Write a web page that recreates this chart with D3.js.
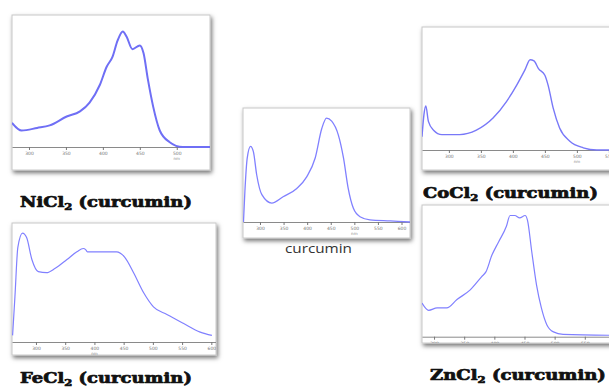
<!doctype html>
<html>
  <head>
    <script src="https://cdn.jsdelivr.net/npm/d3@7"></script>
    <style>
      body { margin: 0; background: #fff; }
    </style>
  </head>
  <body>
    <script>
    // spectra (wavelength in nm, absorbance in arbitrary units)
    var niNm  = [277, 290, 311, 328, 351, 369, 382, 396, 405, 413, 420, 427, 432, 440, 450, 455, 461, 468, 477, 490, 508, 545];
    var niAbs = [0.19, 0.13, 0.15, 0.17, 0.24, 0.28, 0.35, 0.49, 0.63, 0.71, 0.84, 0.91, 0.87, 0.77, 0.80, 0.74, 0.53, 0.32, 0.13, 0.04, 0.0, 0.0];

    var feNm  = [260, 264, 269, 277, 284, 293, 304, 318, 333, 353, 370, 381, 385, 388, 410, 438, 452, 467, 484, 501, 524, 552, 581, 601];
    var feAbs = [0.06, 0.41, 0.86, 0.99, 0.95, 0.75, 0.64, 0.63, 0.67, 0.75, 0.82, 0.85, 0.84, 0.82, 0.82, 0.82, 0.77, 0.63, 0.45, 0.32, 0.25, 0.17, 0.09, 0.06];

    var curNm  = [265, 268, 273, 280, 286, 293, 304, 325, 349, 378, 399, 417, 431, 441, 452, 466, 477, 487, 498, 512, 533, 576, 618];
    var curAbs = [0.0, 0.29, 0.61, 0.72, 0.67, 0.45, 0.26, 0.18, 0.24, 0.32, 0.43, 0.61, 0.89, 0.99, 0.96, 0.83, 0.61, 0.32, 0.13, 0.05, 0.02, 0.01, 0.0];

    var coNm  = [258, 261, 264, 268, 276, 289, 317, 343, 369, 390, 406, 419, 427, 433, 440, 450, 455, 463, 473, 489, 510, 531, 583];
    var coAbs = [0.12, 0.32, 0.40, 0.26, 0.18, 0.14, 0.14, 0.18, 0.29, 0.44, 0.59, 0.73, 0.82, 0.81, 0.74, 0.68, 0.59, 0.38, 0.20, 0.08, 0.02, 0.0, 0.0];

    var znNm  = [280, 291, 305, 321, 338, 360, 379, 386, 396, 407, 420, 426, 434, 442, 451, 455, 462, 470, 478, 487, 498, 514, 625];
    var znAbs = [0.28, 0.22, 0.24, 0.24, 0.31, 0.39, 0.50, 0.54, 0.68, 0.79, 0.92, 1.01, 1.01, 0.99, 1.01, 0.97, 0.71, 0.43, 0.24, 0.10, 0.04, 0.02, 0.01];

    // tick labels of each wavelength axis
    var niTicks  = [300, 350, 400, 450, 500, 550];
    var feTicks  = [300, 350, 400, 450, 500, 550, 600];
    var curTicks = [300, 350, 400, 450, 500, 550, 600];
    var coTicks  = [300, 350, 400, 450, 500, 550];
    var znTicks  = [300, 350, 400, 450, 500, 550];

    var width = 609;
    var height = 389;

    var svg = d3.select("body")
              .append("svg")
              .attr("width", width)
              .attr("height", height)
              .style("display", "block");

    var defs = svg.append("defs");

    defs.append("filter")
        .attr("id", "shadow")
        .attr("x", "-10%").attr("y", "-10%")
        .attr("width", "125%").attr("height", "125%")
      .append("feDropShadow")
        .attr("dx", 1.5)
        .attr("dy", 2.5)
        .attr("stdDeviation", 2)
        .attr("flood-color", "#000")
        .attr("flood-opacity", 0.55);

//Draw one spectrum panel
    function drawPanel(p) {
      var xScale = d3.scaleLinear()
                    .domain(p.domain)
                    .range([p.x0, p.x1]);

      var yScale = d3.scaleLinear()
                    .domain([0, 1])
                    .range([p.axisY, p.axisY - p.unit]);

      svg.append("rect")
        .attr("x", p.x0)
        .attr("y", p.y0)
        .attr("width", p.x1 - p.x0)
        .attr("height", p.y1 - p.y0)
        .attr("fill", "#fff")
        .attr("stroke", "#c8c8c8")
        .attr("stroke-width", 1)
        .attr("filter", "url(#shadow)");

      defs.append("clipPath")
          .attr("id", "clip-" + p.id)
        .append("rect")
          .attr("x", p.x0)
          .attr("y", p.y0)
          .attr("width", p.x1 - p.x0)
          .attr("height", p.y1 - p.y0);

      var g = svg.append("g")
                .attr("clip-path", "url(#clip-" + p.id + ")");

      var xAxis = d3.axisBottom(xScale)
                  .tickValues(p.ticks)
                  .tickSize(3)
                  .tickSizeOuter(0)
                  .tickPadding(2)
                  .tickFormat(d3.format("d"));

      var ax = g.append("g")
        .attr("transform", "translate(0," + p.axisY + ")")
        .call(xAxis);

      ax.select(".domain").attr("stroke", "#8a8a8a");
      ax.selectAll(".tick line").attr("stroke", "#777");
      ax.selectAll(".tick text")
        .attr("fill", "#777")
        .attr("font-family", "DejaVu Sans")
        .attr("font-size", "4.5px");

      g.append("text")
        .attr("x", xScale(p.nmAt))
        .attr("y", p.axisY + 12.5)
        .attr("text-anchor", "middle")
        .attr("font-family", "DejaVu Sans")
        .attr("font-size", "4px")
        .attr("fill", "#888")
        .text("nm");

      var line = d3.line()
                  .x(function(d) { return xScale(d[0]); })
                  .y(function(d) { return yScale(d[1]); })
                  .curve(d3.curveMonotoneX);

      g.append("path")
        .datum(d3.zip(p.nm, p.abs))
        .attr("fill", "none")
        .attr("stroke", p.color)
        .attr("stroke-width", p.lw)
        .attr("stroke-linejoin", "round")
        .attr("d", line);
    }

    drawPanel({id: "ni", nm: niNm, abs: niAbs, ticks: niTicks, nmAt: 500,
               domain: [277, 545], x0: 12, x1: 210, y0: 15, y1: 170, axisY: 147, unit: 127,
               color: "#6f6ff5", lw: 2});
    drawPanel({id: "fe", nm: feNm, abs: feAbs, ticks: feTicks, nmAt: 400,
               domain: [259, 608], x0: 12, x1: 216, y0: 223, y1: 355, axisY: 342, unit: 110,
               color: "#8080ff", lw: 1.2});
    drawPanel({id: "cur", nm: curNm, abs: curAbs, ticks: curTicks, nmAt: 500,
               domain: [264, 618], x0: 243, x1: 410, y0: 108, y1: 238, axisY: 222, unit: 105,
               color: "#8080ff", lw: 1.3});
    drawPanel({id: "co", nm: coNm, abs: coAbs, ticks: coTicks, nmAt: 500,
               domain: [258, 583], x0: 422, x1: 630, y0: 27, y1: 170, axisY: 150, unit: 110,
               color: "#7878f8", lw: 1.4});
    drawPanel({id: "zn", nm: znNm, abs: znAbs, ticks: znTicks, nmAt: 400,
               domain: [280, 625], x0: 422, x1: 630, y0: 205, y1: 343, axisY: 336.7, unit: 120,
               color: "#8080ff", lw: 1.2});

//Compound labels, stretched to the width seen in the picture
    function chemLabel(metal, x, y, w) {
      var t = svg.append("text")
        .attr("font-family", "DejaVu Serif")
        .attr("font-weight", "bold")
        .attr("font-size", "14px")
        .attr("fill", "#111")
        .attr("stroke", "#111")
        .attr("stroke-width", 0.7)
        .attr("stroke-linejoin", "round");
      t.append("tspan").text(metal + "Cl");
      t.append("tspan").attr("font-size", "9px").attr("dy", 3).text("2");
      t.append("tspan").attr("dy", -3).text(" (curcumin)");
      var bw = t.node().getBBox().width;
      t.attr("transform", "translate(" + x + "," + y + ") scale(" + (w / bw) + ",1)");
    }

    chemLabel("Ni", 20, 207, 172);
    chemLabel("Fe", 20, 383, 172);
    chemLabel("Co", 423, 198, 175);
    chemLabel("Zn", 430, 380, 176);

    svg.append("text")
      .attr("x", 285)
      .attr("y", 253)
      .attr("font-family", "Open Sans")
      .attr("font-size", "13px")
      .attr("fill", "#333")
      .attr("textLength", 67)
      .attr("lengthAdjust", "spacingAndGlyphs")
      .text("curcumin");
    </script>
  </body>
</html>
